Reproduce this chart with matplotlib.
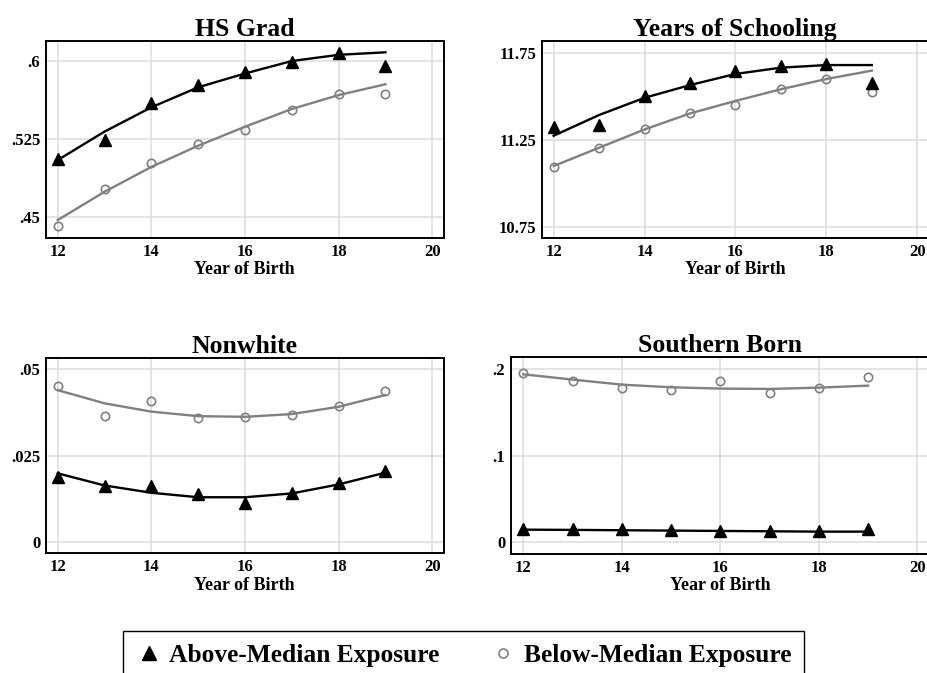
import matplotlib
matplotlib.use("Agg")
import matplotlib.pyplot as plt
from matplotlib.lines import Line2D

plt.rcParams['font.family'] = ['Liberation Serif', 'DejaVu Serif']
plt.rcParams['font.weight'] = 'bold'

years = [12, 13, 14, 15, 16, 17, 18, 19]
xticks = [12, 14, 16, 18, 20]

titles = ["HS Grad", "Years of Schooling", "Nonwhite", "Southern Born"]

# observed means
hs_above = [0.506, 0.524, 0.560, 0.577, 0.589, 0.599, 0.608, 0.5955]
hs_below = [0.4413, 0.4767, 0.502, 0.5197, 0.5335, 0.5528, 0.5685, 0.568]
ys_above = [11.325, 11.333, 11.503, 11.574, 11.645, 11.675, 11.685, 11.578]
ys_below = [11.095, 11.202, 11.313, 11.405, 11.449, 11.539, 11.601, 11.522]
nw_above = [0.0189, 0.0163, 0.0163, 0.0139, 0.0112, 0.0143, 0.0172, 0.0206]
nw_below = [0.0451, 0.0364, 0.0408, 0.0360, 0.0362, 0.0366, 0.0394, 0.0437]
sb_above = [0.0150, 0.0150, 0.0150, 0.0143, 0.0135, 0.0131, 0.0131, 0.0150]
sb_below = [0.1954, 0.1865, 0.1776, 0.1761, 0.1857, 0.1719, 0.1784, 0.1904]

# fitted curves
hs_above_fit = [0.5046, 0.532, 0.5554, 0.5747, 0.588, 0.600, 0.606, 0.6084]
hs_below_fit = [0.4468, 0.474, 0.498, 0.5184, 0.5367, 0.5538, 0.5672, 0.5776]
ys_above_fit = [11.273, 11.392, 11.491, 11.564, 11.628, 11.664, 11.679, 11.679]
ys_below_fit = [11.099, 11.204, 11.309, 11.401, 11.473, 11.540, 11.599, 11.647]
nw_above_fit = [0.0199, 0.0164, 0.0143, 0.0130, 0.0130, 0.0141, 0.0167, 0.0201]
nw_below_fit = [0.0439, 0.0401, 0.0377, 0.0364, 0.0362, 0.0370, 0.0391, 0.0425]
sb_above_fit = [0.0146, 0.0143, 0.0139, 0.0135, 0.0131, 0.0127, 0.0123, 0.0123]
sb_below_fit = [0.1938, 0.1877, 0.1819, 0.1788, 0.1773, 0.1769, 0.1784, 0.1807]

yticks = [[0.45, 0.525, 0.6], [10.75, 11.25, 11.75], [0, 0.025, 0.05], [0, 0.1, 0.2]]
ytick_labels = [['.45', '.525', '.6'], ['10.75', '11.25', '11.75'],
                ['0', '.025', '.05'], ['0', '.1', '.2']]
ylims = [(0.4295, 0.6193), (10.687, 11.819), (-0.00317, 0.05326), (-0.0135, 0.2134)]

above = [hs_above, ys_above, nw_above, sb_above]
below = [hs_below, ys_below, nw_below, sb_below]
above_fit = [hs_above_fit, ys_above_fit, nw_above_fit, sb_above_fit]
below_fit = [hs_below_fit, ys_below_fit, nw_below_fit, sb_below_fit]

W, H = 927, 673
fig = plt.figure(figsize=(W / 100, H / 100), dpi=100)

# pixel boxes: left, right, top, bottom
boxes = [(46.0, 443.5, 41.0, 238.0), (542.3, 928.2, 40.7, 237.7),
         (46.0, 443.5, 357.7, 553.3), (511.0, 929.1, 357.3, 554.0)]

GRAY = '#808080'
for i, (l, r, t, b) in enumerate(boxes):
    ax = fig.add_axes([l / W, 1 - b / H, (r - l) / W, (b - t) / H])
    ax.set_xlim(11.75, 20.24)
    ax.set_ylim(*ylims[i])
    ax.set_xticks(xticks)
    ax.set_xticklabels([str(v) for v in xticks])
    ax.set_yticks(yticks[i])
    ax.set_yticklabels(ytick_labels[i])
    ax.grid(True, color='#dcdcdc', linewidth=1.1, zorder=0)
    ax.set_axisbelow(True)
    ax.tick_params(length=0, labelsize=12, pad=4.2)
    for lab in ax.get_xticklabels() + ax.get_yticklabels():
        lab.set_fontweight('bold')
    for s in ax.spines.values():
        s.set_linewidth(1.4)
        s.set_color('black')
    ax.plot(years, below_fit[i], color=GRAY, lw=1.7, zorder=3)
    ax.plot(years, above_fit[i], color='black', lw=1.7, zorder=3)
    ax.plot(years, below[i], linestyle='none', marker='o', ms=6, mfc='none',
            mec=GRAY, mew=1.2, zorder=4)
    ax.plot(years, above[i], linestyle='none', marker='^', ms=8, color='black', zorder=4)
    ax.set_title(titles[i], fontsize=18.5, fontweight='bold', pad=3.5)
    ax.set_xlabel('Year of Birth', fontsize=13, fontweight='bold', labelpad=1)

handles = [Line2D([], [], linestyle='none', marker='^', ms=9.5, color='black'),
           Line2D([], [], linestyle='none', marker='o', ms=6.5, mfc='none', mec=GRAY, mew=1.2)]
leg = fig.legend(handles, ['Above-Median Exposure', 'Below-Median Exposure'],
                 loc='upper center', bbox_to_anchor=(0.5, 1 - 631 / H), ncol=2,
                 prop={'family': 'Liberation Serif', 'weight': 'bold', 'size': 18.4},
                 frameon=True, fancybox=False, edgecolor='black', framealpha=1,
                 borderpad=0.5, handlelength=1.0, handletextpad=0.3,
                 columnspacing=2.0, borderaxespad=0)
leg.get_frame().set_linewidth(1.0)

fig.savefig('out.png', dpi=100)
